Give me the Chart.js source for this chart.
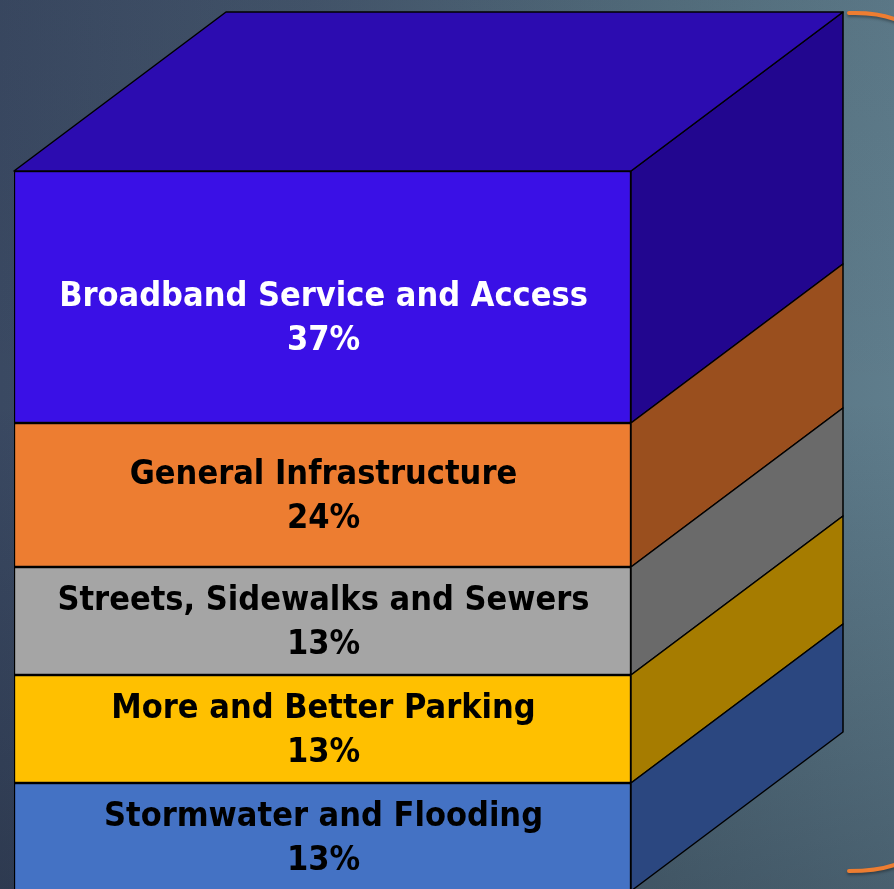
<!DOCTYPE html>
<html>
<head>
<meta charset="utf-8">
<script src="https://cdn.jsdelivr.net/npm/chart.js@4.4.1/dist/chart.umd.min.js"></script>
<style>
  html, body {
    margin: 0;
    padding: 0;
    overflow: hidden;
    width: 894px;
    height: 889px;
    background:
      linear-gradient(to bottom, rgba(20,25,40,0.06) 0%, rgba(20,25,40,0) 45%, rgba(15,20,35,0.28) 100%),
      linear-gradient(to right, #3a4962 0%, #44566c 35%, #55707f 75%, #5f7d8c 100%);
  }
  canvas { display: block; }
</style>
</head>
<body>
<canvas id="cube-chart" width="894" height="900"></canvas>
<script>
// 3D stacked column of survey priorities (single column, five layers)

const categories = [
    'Broadband Service and Access',
    'General Infrastructure',
    'Streets, Sidewalks and Sewers',
    'More and Better Parking',
    'Stormwater and Flooding'
];

// printed shares on each layer
const shareLabels = ['37%', '24%', '13%', '13%', '13%'];

// layer sizes as drawn in the picture (relative units, sum 100)
const layerValues = [35, 20, 15, 15, 15];

const frontColors = ['#3a10e6', '#ed7d31', '#a5a5a5', '#ffc000', '#4472c4'];
const sideColors  = ['#22068f', '#9a4f1e', '#6a6a6a', '#a67c00', '#2b4780'];
const topColor = '#2c0cb0';
const textColors = ['#ffffff', '#000000', '#000000', '#000000', '#000000'];

// depth of the extrusion (right, up)
const DEPTH_X = 212;
const DEPTH_Y = -159;

const cubePlugin = {
    id: 'cube',
    afterDatasetsDraw(chart) {
        const ctx = chart.ctx;
        ctx.save();
        ctx.lineWidth = 1.5;
        ctx.strokeStyle = '#000000';
        ctx.lineJoin = 'round';

        chart.data.datasets.forEach((ds, i) => {
            const bar = chart.getDatasetMeta(i).data[0];
            const left = bar.x - bar.width / 2;
            const right = bar.x + bar.width / 2;
            const top = Math.min(bar.y, bar.base);
            const bottom = Math.max(bar.y, bar.base);

            // side face
            ctx.beginPath();
            ctx.moveTo(right, top);
            ctx.lineTo(right + DEPTH_X, top + DEPTH_Y);
            ctx.lineTo(right + DEPTH_X, bottom + DEPTH_Y);
            ctx.lineTo(right, bottom);
            ctx.closePath();
            ctx.fillStyle = sideColors[i];
            ctx.fill();
            ctx.stroke();

            // top face only on the highest layer
            if (i === 0) {
                ctx.beginPath();
                ctx.moveTo(left, top);
                ctx.lineTo(left + DEPTH_X, top + DEPTH_Y);
                ctx.lineTo(right + DEPTH_X, top + DEPTH_Y);
                ctx.lineTo(right, top);
                ctx.closePath();
                ctx.fillStyle = topColor;
                ctx.fill();
                ctx.stroke();
            }

            // label, two lines
            const cx = bar.x + 1;
            const cy = (top + bottom) / 2 + (i === 0 ? 22 : 2);
            ctx.fillStyle = textColors[i];
            ctx.font = 'bold 34px "DejaVu Sans Condensed", "DejaVu Sans", sans-serif';
            ctx.textAlign = 'center';
            ctx.textBaseline = 'middle';
            ctx.fillText(categories[i], cx, cy - 22);
            ctx.fillText(shareLabels[i], cx, cy + 22);
        });

        // orange bracket on the right edge
        ctx.strokeStyle = '#ed7d31';
        ctx.lineWidth = 4;
        ctx.lineCap = 'round';
        ctx.shadowColor = 'rgba(0,0,0,0.35)';
        ctx.shadowBlur = 3;
        ctx.shadowOffsetY = 2;
        ctx.beginPath();
        ctx.moveTo(849, 13);
        ctx.quadraticCurveTo(878, 12, 897, 20);
        ctx.stroke();
        ctx.beginPath();
        ctx.moveTo(849, 871);
        ctx.quadraticCurveTo(878, 871, 897, 864);
        ctx.stroke();
        ctx.restore();
    }
};

const ctx = document.getElementById('cube-chart').getContext('2d');

new Chart(ctx, {
    type: 'bar',
    data: {
        labels: ['Priorities'],
        datasets: categories.map((name, i) => ({
            label: name,
            data: [layerValues[i]],
            backgroundColor: frontColors[i],
            borderColor: '#000000',
            borderWidth: 1.5,
            borderSkipped: false,
            barPercentage: 1,
            categoryPercentage: 1
        }))
    },
    options: {
        responsive: false,
        animation: false,
        layout: {
            padding: { top: 171, left: 14, right: 263, bottom: 9 }
        },
        plugins: {
            legend: { display: false },
            tooltip: { enabled: false }
        },
        scales: {
            x: {
                display: false,
                stacked: true
            },
            y: {
                display: false,
                stacked: true,
                reverse: true,
                min: 0,
                max: 100
            }
        }
    },
    plugins: [cubePlugin]
});
</script>
</body>
</html>
